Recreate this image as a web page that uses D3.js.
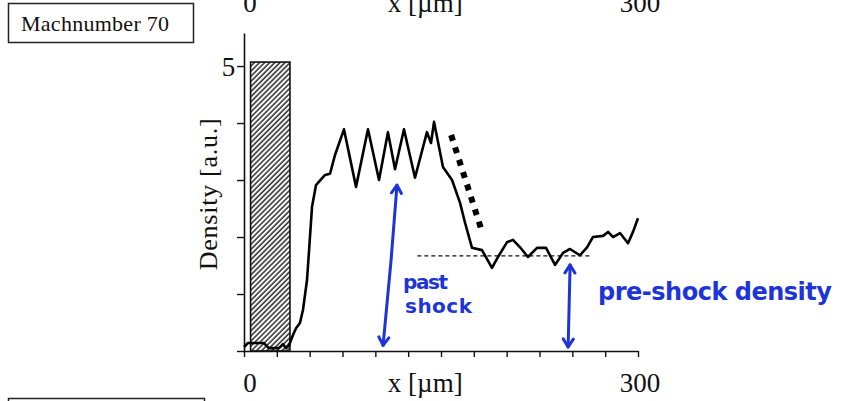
<!DOCTYPE html>
<html>
<head>
<meta charset="utf-8">
<script src="https://cdn.jsdelivr.net/npm/d3@7"></script>
<style>
  body { margin: 0; background: #fff; }
  svg { display: block; }
  .serif { font-family: "Liberation Serif", "DejaVu Serif", serif; fill: #111; }
  .hand { font-family: "DejaVu Sans", sans-serif; font-weight: bold; fill: #1d35d8; }
</style>
</head>
<body>
<div class="chart"></div>
<script>
// Data (x in µm, density in a.u.)
const xVals = [0, 3, 15, 19, 26.6, 29.7, 32, 34.3, 37.3, 39.6, 42.6, 44.9, 48, 51.8, 54.8,
  61.7, 65.5, 69.3, 76.1, 85.3, 94.4, 102.8, 109.6, 115, 121.8, 130.2, 139.3, 142.4, 144.7,
  151.5, 158.4, 164.5, 168.3, 173.6, 181.2, 188.8, 193.4, 200.3, 204.8, 210.2, 216.2, 223.1,
  230, 236.8, 242.9, 248.2, 255.8, 261.2, 265.7, 273.4, 277.2, 281, 286.3, 292.4, 296.2, 300];
const densityVals = [0.07, 0.14, 0.14, 0.05, 0.05, 0.12, 0.05, 0.1, 0.28, 0.4, 0.49, 0.72, 1.25, 2.53, 2.91,
  3.09, 3.11, 3.44, 3.89, 2.88, 3.89, 3.0, 3.84, 3.19, 3.89, 3.04, 3.84, 3.65, 4.02,
  3.23, 3.0, 2.6, 2.25, 1.81, 1.77, 1.46, 1.65, 1.91, 1.95, 1.82, 1.65, 1.81,
  1.81, 1.51, 1.72, 1.79, 1.68, 1.82, 2.0, 2.02, 2.09, 2.0, 2.07, 1.89, 2.09, 2.33];

const targetBar = { x0: 5, x1: 35, value: 5.07 };
const xTicks = d3.range(0, 301, 25);
const xTickLabels = ["0", "300"];
const yTicks = [0, 1, 2, 3, 4, 5];
const yTickLabels = ["5"];
const preShockLevel = { x0: 132, x1: 265, value: 1.67 };
const slopeGuide = [[157.7, 3.79], [181.3, 2.09]];
const postShockArrow = [[116.5, 2.91], [112, 1.6], [105.9, 0.1]];
const preShockArrow = [[248.3, 1.51], [246.8, 0.07]];

const W = 841, H = 401;
const svg = d3.select(".chart").append("svg").attr("width", W).attr("height", H);

const xScale = d3.scaleLinear().domain([0, 300]).range([244, 638]);
const yScale = d3.scaleLinear().domain([0, 5.58]).range([351, 33]);

const defs = svg.append("defs");
const pat = defs.append("pattern")
  .attr("id", "hatch")
  .attr("patternUnits", "userSpaceOnUse")
  .attr("width", 3.6).attr("height", 10)
  .attr("patternTransform", "rotate(45)");
pat.append("rect").attr("width", 3.6).attr("height", 10).attr("fill", "#fff");
pat.append("line").attr("x1", 1).attr("y1", 0).attr("x2", 1).attr("y2", 10)
  .attr("stroke", "#2a2a2a").attr("stroke-width", 1.5);

defs.append("marker")
  .attr("id", "vhead")
  .attr("viewBox", "-10 -7 12 14")
  .attr("markerUnits", "userSpaceOnUse")
  .attr("markerWidth", 12).attr("markerHeight", 14)
  .attr("refX", 0).attr("refY", 0)
  .attr("orient", "auto-start-reverse")
  .append("path")
  .attr("d", "M-8,-5 L0,0 L-8,5")
  .attr("fill", "none").attr("stroke", "#1d35d8").attr("stroke-width", 3)
  .attr("stroke-linecap", "round").attr("stroke-linejoin", "round");

// panel title box
svg.append("rect").attr("x", 8.5).attr("y", 3.5).attr("width", 185).attr("height", 39)
  .attr("fill", "none").attr("stroke", "#222").attr("stroke-width", 1.5);
svg.append("text").attr("class", "serif").attr("x", 21).attr("y", 31)
  .style("font-size", "22px").attr("textLength", 148).text("Machnumber 70");

// next panel's box (cut at bottom)
svg.append("rect").attr("x", 8.5).attr("y", 398.5).attr("width", 196).attr("height", 40)
  .attr("fill", "none").attr("stroke", "#222").attr("stroke-width", 1.5);

// previous panel's axis labels (cut at top, as in the source)
const topLabels = svg.append("g").attr("class", "serif").style("font-size", "27px");
topLabels.append("text").attr("x", xScale(0) + 6).attr("y", 12).attr("text-anchor", "middle").text(xTickLabels[0]);
topLabels.append("text").attr("x", xScale(138)).attr("y", 12).attr("text-anchor", "middle").text("x [µm]");
topLabels.append("text").attr("x", xScale(300) + 2).attr("y", 12).attr("text-anchor", "middle").text(xTickLabels[1]);

// hatched target
svg.append("rect")
  .attr("x", xScale(targetBar.x0))
  .attr("y", yScale(targetBar.value))
  .attr("width", xScale(targetBar.x1) - xScale(targetBar.x0))
  .attr("height", yScale(0) - yScale(targetBar.value))
  .attr("fill", "url(#hatch)")
  .attr("stroke", "#111").attr("stroke-width", 1.6);

// axes
const xAxis = d3.axisBottom(xScale).tickValues(xTicks).tickSize(6).tickSizeOuter(0).tickFormat("");
const yAxis = d3.axisLeft(yScale).tickValues(yTicks).tickSize(7).tickSizeOuter(0).tickFormat("");

const gx = svg.append("g").attr("transform", `translate(0,${yScale(0)})`).call(xAxis);
const gy = svg.append("g").attr("transform", `translate(${xScale(0)},0)`).call(yAxis);
[gx, gy].forEach((g) => {
  g.select(".domain").attr("stroke", "#111").attr("stroke-width", 1.6);
  g.selectAll(".tick line").attr("stroke", "#111").attr("stroke-width", 1.4);
});

// tick labels
svg.append("text").attr("class", "serif").style("font-size", "27px")
  .attr("x", xScale(0) + 6).attr("y", 392).attr("text-anchor", "middle").text(xTickLabels[0]);
svg.append("text").attr("class", "serif").style("font-size", "27px")
  .attr("x", xScale(300) + 2).attr("y", 392).attr("text-anchor", "middle").text(xTickLabels[1]);
svg.append("text").attr("class", "serif").style("font-size", "27px")
  .attr("x", xScale(5) - 22).attr("y", yScale(5) + 10).attr("text-anchor", "middle").text(yTickLabels[0]);

// axis titles
svg.append("text").attr("class", "serif").style("font-size", "27px")
  .attr("x", xScale(138)).attr("y", 392).attr("text-anchor", "middle").text("x [µm]");
svg.append("text").attr("class", "serif").style("font-size", "26px")
  .attr("transform", `translate(217,${yScale(2.75)}) rotate(-90)`)
  .attr("text-anchor", "middle").attr("textLength", 152).text("Density [a.u.]");

// pre-shock level (thin dashed)
svg.append("line")
  .attr("x1", xScale(preShockLevel.x0)).attr("x2", xScale(preShockLevel.x1))
  .attr("y1", yScale(preShockLevel.value)).attr("y2", yScale(preShockLevel.value))
  .attr("stroke", "#111").attr("stroke-width", 1.4).attr("stroke-dasharray", "4,3");

// thick dotted slope guide
svg.append("path")
  .datum(slopeGuide)
  .attr("d", d3.line().x((d) => xScale(d[0])).y((d) => yScale(d[1])))
  .attr("stroke", "#000").attr("stroke-width", 6).attr("stroke-dasharray", "6,7")
  .attr("fill", "none");

// density profile
const profile = xVals.map((x, i) => ({ x: x, y: densityVals[i] }));
svg.append("path")
  .datum(profile)
  .attr("d", d3.line().x((d) => xScale(d.x)).y((d) => yScale(d.y)))
  .attr("fill", "none").attr("stroke", "#000").attr("stroke-width", 2.6)
  .attr("stroke-linejoin", "round");

// blue hand annotations
const arrowLine = d3.line().x((d) => xScale(d[0])).y((d) => yScale(d[1])).curve(d3.curveNatural);
[postShockArrow, preShockArrow].forEach((a) => {
  svg.append("path")
    .attr("d", arrowLine(a))
    .attr("fill", "none").attr("stroke", "#1d35d8").attr("stroke-width", 3)
    .attr("stroke-linecap", "round")
    .attr("marker-start", "url(#vhead)").attr("marker-end", "url(#vhead)");
});

svg.append("text").attr("class", "hand").attr("x", 403).attr("y", 289)
  .style("font-size", "20px").attr("textLength", 45).text("past");
svg.append("text").attr("class", "hand").attr("x", 405).attr("y", 313)
  .style("font-size", "20px").attr("textLength", 67).text("shock");
svg.append("text").attr("class", "hand").attr("x", 598).attr("y", 300)
  .style("font-size", "24px").attr("textLength", 234).text("pre-shock density");
</script>
</body>
</html>
